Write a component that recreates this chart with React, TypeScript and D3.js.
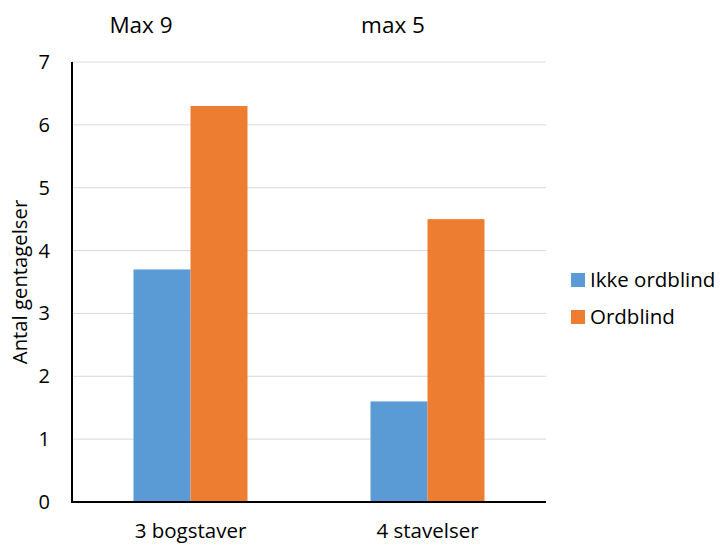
import React from "react";
import * as d3 from "d3";

const categories = ["3 bogstaver", "4 stavelser"];
const topLabels = ["Max 9", "max 5"];
const seriesNames = ["Ikke ordblind", "Ordblind"];
const ikkeOrdblind = [3.7, 1.6];
const ordblind = [6.3, 4.5];
const yTicks = [0, 1, 2, 3, 4, 5, 6, 7];
const colors = ["#5B9BD5", "#ED7D31"];

const FONT = "'Open Sans', sans-serif";

export default function App() {
  const width = 720;
  const height = 546;
  const left = 72;
  const right = 546;
  const top = 62;
  const bottom = 502;

  const x = d3.scaleBand<string>().domain(categories).range([left, right]).paddingInner(0).paddingOuter(0);
  const y = d3.scaleLinear().domain([0, 7]).range([bottom, top]);
  const groupWidth = 114;
  const x1 = d3.scaleBand<string>().domain(seriesNames).range([0, groupWidth]);
  const series = [ikkeOrdblind, ordblind];

  return (
    <svg width={width} height={height} style={{ position: "absolute", left: 0, top: 0 }} fontFamily={FONT}>
      <rect width={width} height={height} fill="#fff" />
      {yTicks.map((t) => (
        <line key={"g" + t} x1={left} x2={right} y1={y(t)} y2={y(t)} stroke="#D9D9D9" strokeWidth={1} />
      ))}
      {categories.map((c, i) =>
        series.map((s, j) => {
          const bx = (x(c) as number) + x.bandwidth() / 2 - groupWidth / 2 + (x1(seriesNames[j]) as number);
          return (
            <rect key={c + j} x={bx} y={y(s[i])} width={x1.bandwidth()} height={y(0) - y(s[i])} fill={colors[j]} />
          );
        })
      )}
      <line x1={left} x2={left} y1={top} y2={bottom} stroke="#000" strokeWidth={2} />
      <line x1={left - 1} x2={right} y1={bottom} y2={bottom} stroke="#000" strokeWidth={2} />
      {yTicks.map((t) => (
        <text key={"t" + t} x={50} y={y(t)} dy="0.35em" textAnchor="end" fontSize={20} fill="#000">
          {t}
        </text>
      ))}
      {categories.map((c) => (
        <text key={c} x={(x(c) as number) + x.bandwidth() / 2} y={538} textAnchor="middle" fontSize={20.5} fill="#000">
          {c}
        </text>
      ))}
      {topLabels.map((l, i) => (
        <text key={l} x={[141, 393][i]} y={33} textAnchor="middle" fontSize={22.5} fill="#000">
          {l}
        </text>
      ))}
      <text transform={`translate(27,${(top + bottom) / 2}) rotate(-90)`} textAnchor="middle" fontSize={20.3} fill="#000">
        Antal gentagelser
      </text>
      {seriesNames.map((n, i) => (
        <g key={n} transform={`translate(571,${273 + i * 37})`}>
          <rect width={14} height={14} fill={colors[i]} />
          <text x={19} y={7} dy="0.35em" fontSize={20.5} fill="#000">
            {n}
          </text>
        </g>
      ))}
    </svg>
  );
}
